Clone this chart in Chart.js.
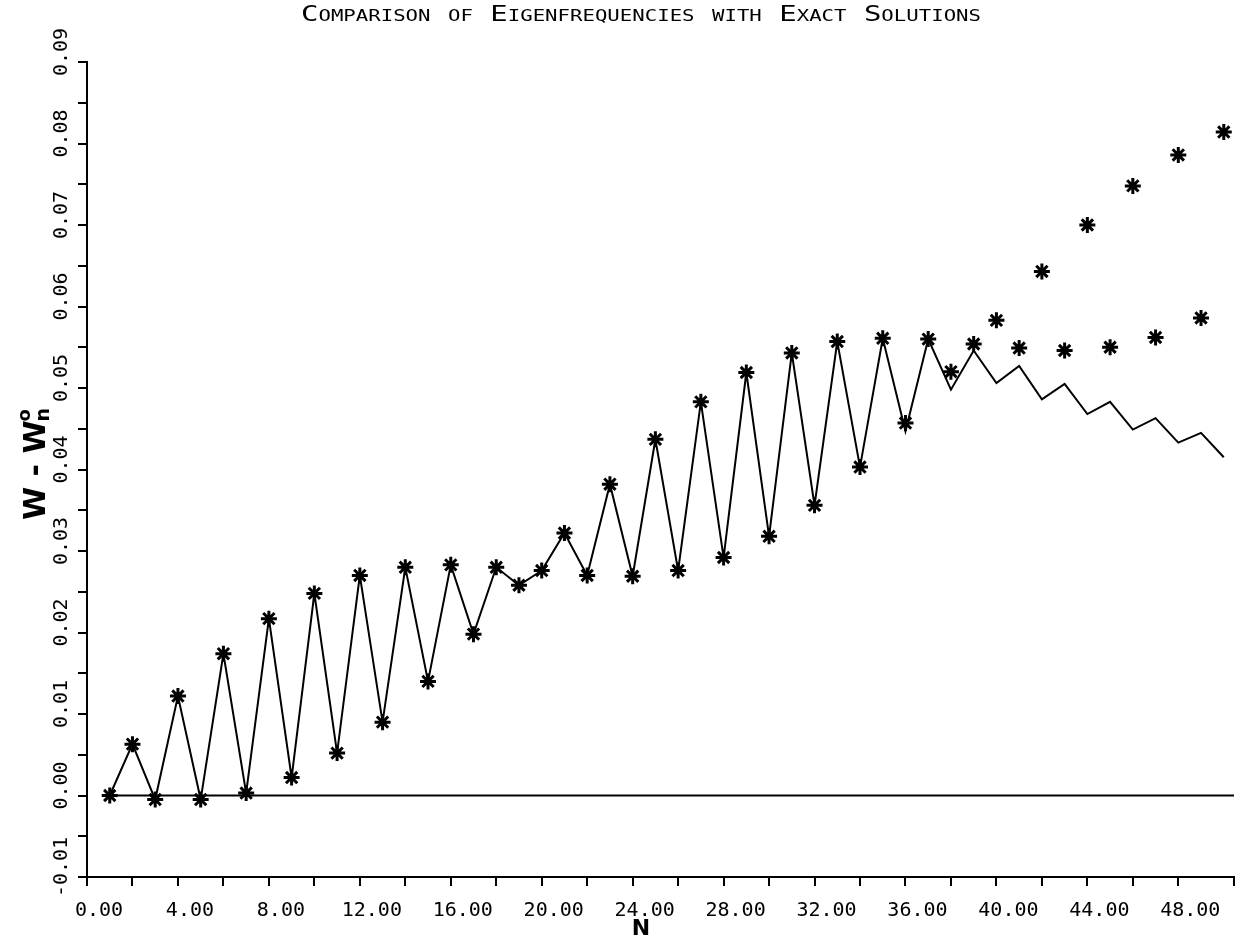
<!DOCTYPE html>
<html>
<head>
<meta charset="utf-8">
<script src="https://cdn.jsdelivr.net/npm/chart.js@4"></script>
<style>
  html, body { margin: 0; padding: 0; background: #fff; }
  #wrap { width: 1247px; height: 941px; }
</style>
</head>
<body>
<div id="wrap"><canvas id="chart" width="1247" height="941"></canvas></div>
<script>
// values (N = mode number)
const nValues = [1, 2, 3, 4, 5, 6, 7, 8, 9, 10, 11, 12, 13, 14, 15, 16, 17, 18, 19, 20,
  21, 22, 23, 24, 25, 26, 27, 28, 29, 30, 31, 32, 33, 34, 35, 36, 37, 38, 39, 40,
  41, 42, 43, 44, 45, 46, 47, 48, 49, 50];

// asterisks
const starValues = [0.0000, 0.0063, -0.0005, 0.0122, -0.0005, 0.0174, 0.0003, 0.0217, 0.0022, 0.0248,
  0.0052, 0.0270, 0.0090, 0.0280, 0.0140, 0.0283, 0.0198, 0.0280, 0.0258, 0.0276,
  0.0322, 0.0270, 0.0382, 0.0269, 0.0437, 0.0276, 0.0483, 0.0292, 0.0519, 0.0318,
  0.0543, 0.0356, 0.0557, 0.0403, 0.0561, 0.0457, 0.0560, 0.0520, 0.0554, 0.0583,
  0.0549, 0.0643, 0.0546, 0.0700, 0.0550, 0.0748, 0.0562, 0.0786, 0.0586, 0.0814];

// solid line
const lineValues = [0.0000, 0.0063, -0.0005, 0.0122, -0.0005, 0.0174, 0.0003, 0.0217, 0.0022, 0.0248,
  0.0052, 0.0270, 0.0090, 0.0280, 0.0140, 0.0283, 0.0198, 0.0280, 0.0258, 0.0276,
  0.0322, 0.0270, 0.0382, 0.0269, 0.0437, 0.0276, 0.0483, 0.0292, 0.0519, 0.0318,
  0.0543, 0.0356, 0.0557, 0.0403, 0.0561, 0.0447, 0.0560, 0.0498, 0.0546, 0.0506,
  0.0527, 0.0486, 0.0505, 0.0468, 0.0483, 0.0449, 0.0463, 0.0433, 0.0445, 0.0415];

// zero reference line
const zeroX = [1, 50.45];
const zeroY = [0, 0];

const xMin = 0, xMax = 50.45, xStep = 2, xLabelEvery = 4;
const yMin = -0.01, yMax = 0.09, yStep = 0.005;

const TITLE = "Comparison of Eigenfrequencies with Exact Solutions";
const X_TITLE = "N";

const pts = (xs, ys) => xs.map((x, i) => ({ x, y: ys[i] }));

const tickFont = { family: "'DejaVu Sans Mono', monospace", size: 20 };

// titles drawn on top (small caps title, rotated W - Wn° label)
const textPlugin = {
  id: "texts",
  afterDraw(chart) {
    const ctx = chart.ctx;
    ctx.save();
    ctx.fillStyle = "#000";
    ctx.textAlign = "center";
    ctx.textBaseline = "middle";
    ctx.font = "small-caps 21px 'DejaVu Sans Mono'";
    if ("fontVariantCaps" in ctx) ctx.fontVariantCaps = "small-caps";
    const w = ctx.measureText(TITLE).width;
    ctx.translate(641, 16);
    ctx.scale(680 / w, 1);
    ctx.fillText(TITLE, 0, 0);
    ctx.restore();

    // x axis title
    ctx.save();
    ctx.fillStyle = "#000";
    ctx.font = "bold 22px 'DejaVu Sans'";
    ctx.textAlign = "center";
    ctx.textBaseline = "middle";
    ctx.fillText(X_TITLE, 641, 929);
    ctx.restore();

    // y axis title  W - W(n, o)
    ctx.save();
    ctx.fillStyle = "#000";
    ctx.translate(45, 520);
    ctx.rotate(-Math.PI / 2);
    ctx.textAlign = "left";
    ctx.textBaseline = "alphabetic";
    ctx.font = "bold 30px 'DejaVu Sans'";
    const main = "W - W";
    ctx.fillText(main, 0, 0);
    const mw = ctx.measureText(main).width;
    ctx.font = "bold 19px 'DejaVu Sans'";
    ctx.fillText("n", mw - 1, 4);
    ctx.font = "bold 18px 'DejaVu Sans'";
    ctx.fillText("o", mw - 1, -15);
    ctx.restore();
  }
};

new Chart(document.getElementById("chart"), {
  type: "scatter",
  data: {
    datasets: [
      { label: "zero", data: pts(zeroX, zeroY), showLine: true, borderColor: "#000",
        borderWidth: 2, pointRadius: 0, fill: false },
      { label: "exact", data: pts(nValues, lineValues), showLine: true, borderColor: "#000",
        borderWidth: 2, pointRadius: 0, fill: false, tension: 0 },
      { label: "computed", data: pts(nValues, starValues), showLine: false,
        pointStyle: "star", pointRadius: 8, borderColor: "#000", backgroundColor: "#000",
        pointBorderWidth: 3 }
    ]
  },
  options: {
    responsive: false,
    animation: false,
    devicePixelRatio: 1,
    layout: { padding: { top: 62, right: 3, left: 0, bottom: 0 } },
    plugins: { legend: { display: false }, title: { display: false }, tooltip: { enabled: false } },
    scales: {
      x: {
        type: "linear",
        min: xMin, max: xMax,
        afterFit: s => { s.height = 64; },
        border: { display: true, color: "#000", width: 2 },
        grid: { display: true, drawOnChartArea: false, drawTicks: true, tickLength: 9, color: "#000", lineWidth: 2 },
        ticks: {
          stepSize: xStep, autoSkip: false, maxRotation: 0, color: "#000", font: tickFont,
          padding: 13, labelOffset: 12,
          callback: v => (Math.abs(v / xLabelEvery - Math.round(v / xLabelEvery)) < 1e-6 ? v.toFixed(2) : "")
        }
      },
      y: {
        type: "linear",
        min: yMin, max: yMax,
        afterFit: s => { s.width = 87; },
        border: { display: true, color: "#000", width: 2 },
        grid: { display: true, drawOnChartArea: false, drawTicks: true, tickLength: 9, color: "#000", lineWidth: 2 },
        ticks: {
          stepSize: yStep, autoSkip: false, minRotation: 90, maxRotation: 90, crossAlign: "center",
          color: "#000", font: tickFont, padding: -14, labelOffset: -10,
          callback: v => {
            const k = Math.round(v * 1000);
            return k % 10 === 0 ? (k / 1000).toFixed(2) : "";
          }
        }
      }
    }
  },
  plugins: [textPlugin]
});
</script>
</body>
</html>
